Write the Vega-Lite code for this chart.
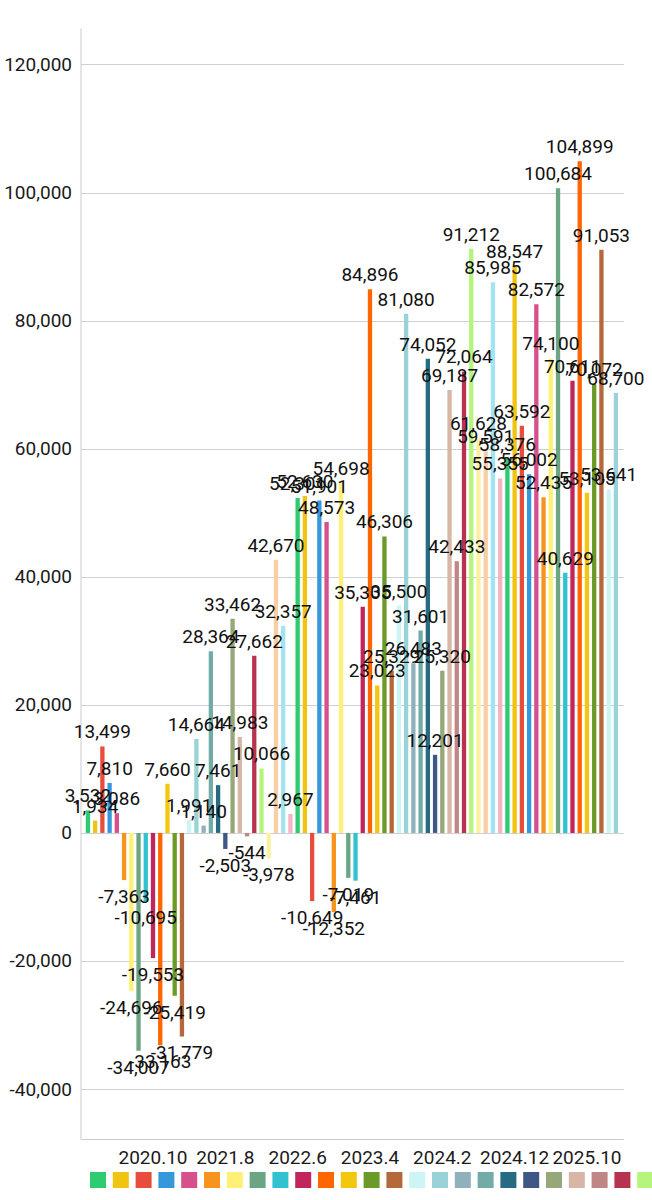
{
  "$schema": "https://vega.github.io/schema/vega-lite/v6.json",
  "width": 542.8,
  "height": 1111,
  "autosize": {"type": "none"},
  "padding": {"left": 80.5, "top": 28, "right": 28.7, "bottom": 61},
  "config": {
    "locale": {"number": {"decimal": ".", "thousands": ",", "grouping": [3], "currency": ["$", ""], "minus": "-"}},
    "view": {"stroke": null},
    "font": "Roboto",
    "axis": {"labelFont": "Roboto", "labelFontSize": 19, "labelColor": "#1a1a1a", "ticks": false, "domainColor": "#ccc", "gridColor": "#d0d0d0"}
  },
  "data": {
    "values": [
      {"month": "2020.1", "value": 3532}, {"month": "2020.2", "value": 1934}, {"month": "2020.3", "value": 13499},
      {"month": "2020.4", "value": 7810}, {"month": "2020.5", "value": 3086}, {"month": "2020.6", "value": -7363},
      {"month": "2020.7", "value": -24696}, {"month": "2020.8", "value": -34007}, {"month": "2020.9", "value": -10695},
      {"month": "2020.10", "value": -19553}, {"month": "2020.11", "value": -33163}, {"month": "2020.12", "value": 7660},
      {"month": "2021.1", "value": -25419}, {"month": "2021.2", "value": -31779}, {"month": "2021.3", "value": 1991},
      {"month": "2021.4", "value": 14664}, {"month": "2021.5", "value": 1140}, {"month": "2021.6", "value": 28364},
      {"month": "2021.7", "value": 7461}, {"month": "2021.8", "value": -2503}, {"month": "2021.9", "value": 33462},
      {"month": "2021.10", "value": 14983}, {"month": "2021.11", "value": -544}, {"month": "2021.12", "value": 27662},
      {"month": "2022.1", "value": 10066}, {"month": "2022.2", "value": -3978}, {"month": "2022.3", "value": 42670},
      {"month": "2022.4", "value": 32357}, {"month": "2022.5", "value": 2967}, {"month": "2022.6", "value": 52301},
      {"month": "2022.7", "value": 52630}, {"month": "2022.8", "value": -10649}, {"month": "2022.9", "value": 51901},
      {"month": "2022.10", "value": 48573}, {"month": "2022.11", "value": -12352}, {"month": "2022.12", "value": 54698},
      {"month": "2023.1", "value": -7019}, {"month": "2023.2", "value": -7461}, {"month": "2023.3", "value": 35305},
      {"month": "2023.4", "value": 84896}, {"month": "2023.5", "value": 23023}, {"month": "2023.6", "value": 46306},
      {"month": "2023.7", "value": 25329}, {"month": "2023.8", "value": 35500}, {"month": "2023.9", "value": 81080},
      {"month": "2023.10", "value": 26483}, {"month": "2023.11", "value": 31601}, {"month": "2023.12", "value": 74052},
      {"month": "2024.1", "value": 12201}, {"month": "2024.2", "value": 25320}, {"month": "2024.3", "value": 69187},
      {"month": "2024.4", "value": 42433}, {"month": "2024.5", "value": 72064}, {"month": "2024.6", "value": 91212},
      {"month": "2024.7", "value": 61628}, {"month": "2024.8", "value": 59591}, {"month": "2024.9", "value": 85985},
      {"month": "2024.10", "value": 55355}, {"month": "2024.11", "value": 58376}, {"month": "2024.12", "value": 88547},
      {"month": "2025.1", "value": 63592}, {"month": "2025.2", "value": 56002}, {"month": "2025.3", "value": 82572},
      {"month": "2025.4", "value": 52435}, {"month": "2025.5", "value": 74100}, {"month": "2025.6", "value": 100684},
      {"month": "2025.7", "value": 40629}, {"month": "2025.8", "value": 70611}, {"month": "2025.9", "value": 104899},
      {"month": "2025.10", "value": 53105}, {"month": "2025.11", "value": 70072}, {"month": "2025.12", "value": 91053},
      {"month": "2026.1", "value": 53641}, {"month": "2026.2", "value": 68700}
    ]
  },
  "encoding": {
    "x": {
      "field": "month",
      "type": "ordinal",
      "sort": null,
      "scale": {"paddingInner": 0.405, "paddingOuter": 0.727},
      "axis": {
        "title": null,
        "labelAngle": 0,
        "labelPadding": 9,
        "values": ["2020.10", "2021.8", "2022.6", "2023.4", "2024.2", "2024.12", "2025.10"]
      }
    },
    "y": {
      "field": "value",
      "type": "quantitative",
      "scale": {"domain": [-47800, 125700], "nice": false, "zero": false},
      "axis": {
        "title": null,
        "format": ",.0f",
        "labelPadding": 9,
        "values": [-40000, -20000, 0, 20000, 40000, 60000, 80000, 100000, 120000]
      }
    }
  },
  "layer": [
    {
      "mark": "bar",
      "encoding": {
        "color": {
          "field": "month",
          "type": "nominal",
          "sort": null,
          "scale": {
            "range": ["#2ecc71", "#f1c40f", "#e74c3c", "#3498db", "#d6508c", "#f7941d", "#fff176", "#6ba583", "#31c2d0", "#c2255c",
                      "#ff6600", "#f4c70f", "#6b9a26", "#b5683a", "#cdf5f5", "#99d3d8", "#8fb1bb", "#72aca7", "#266b82", "#3f5785",
                      "#96a87a", "#d8b6a5", "#c08585", "#b8334f", "#b6f57c", "#fdf0a0", "#f8cfa4", "#a3e4f2", "#f5b3c3"]
          },
          "legend": {
            "title": null,
            "orient": "none",
            "legendX": 9.5,
            "legendY": 1144,
            "direction": "horizontal",
            "columns": 80,
            "padding": 0,
            "symbolType": "square",
            "symbolSize": 256,
            "symbolStrokeWidth": 0,
            "symbolOpacity": 1,
            "labelExpr": "''",
            "labelOffset": 0,
            "columnPadding": 6.8
          }
        }
      }
    },
    {
      "transform": [{"filter": "datum.value >= 0"}],
      "mark": {"type": "text", "font": "Roboto", "fontSize": 19, "color": "#111", "baseline": "alphabetic", "dy": -8},
      "encoding": {"text": {"field": "value", "type": "quantitative", "format": ","}}
    },
    {
      "transform": [{"filter": "datum.value < 0"}],
      "mark": {"type": "text", "font": "Roboto", "fontSize": 19, "color": "#111", "baseline": "top", "dy": 8},
      "encoding": {"text": {"field": "value", "type": "quantitative", "format": ","}}
    }
  ]
}
